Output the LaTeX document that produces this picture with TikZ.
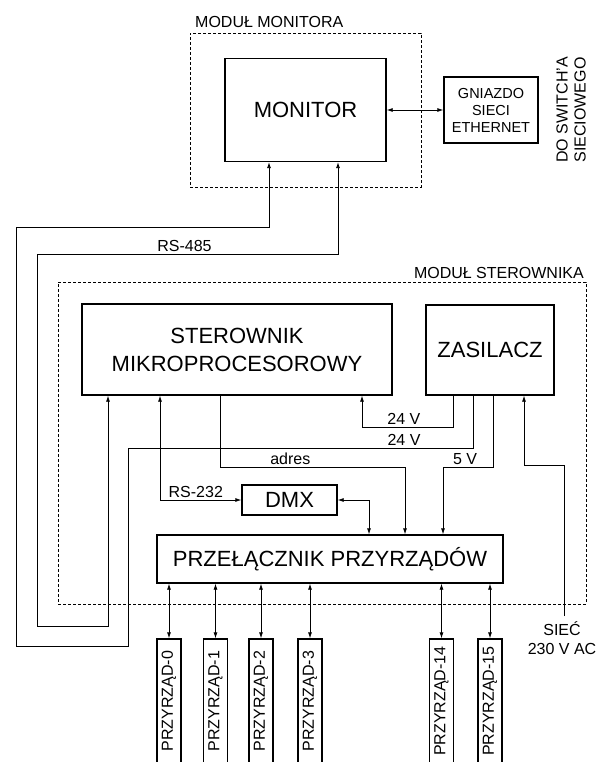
\documentclass[tikz,border=0pt]{standalone}
\usepackage{fontspec}
\setmainfont{Liberation Sans}
\usepackage{graphicx}
\usetikzlibrary{arrows.meta}

\begin{document}
\begin{tikzpicture}[x=1pt,y=-1pt,
  every node/.style={inner sep=0pt,font=\fontsize{16}{18}\selectfont},
  blok/.style={draw,line width=1.3pt,align=center,font=\fontsize{22}{28}\selectfont},
  modul/.style={draw,line width=0.6pt,dash pattern=on 3pt off 2pt},
  pil/.style={line width=0.8pt,-{Latex[length=6pt,width=4pt]}},
  dpil/.style={line width=0.8pt,{Latex[length=6pt,width=4pt]}-{Latex[length=6pt,width=4pt]}},
  lbl/.style={above=2pt}]
  \useasboundingbox (0,0) rectangle (604,762);

  % modul monitora
  \node[modul,minimum width=231pt,minimum height=154pt] (modmon) at (305.5,110) {};
  \node[anchor=base west] (lmodmon) at (195,28) {MODUŁ MONITORA};
  \node[blok,minimum width=161pt,minimum height=103pt] (monitor) at (305.5,110) {MONITOR};
  \node[draw,line width=1.3pt,align=center,font=\fontsize{14.5}{17}\selectfont,
        minimum width=94pt,minimum height=66pt] (gniazdo) at (491,110)
    {GNIAZDO\\SIECI\\ETHERNET};
  \node[rotate=90,align=center] (doswitch) at (571,110) {DO SWITCH'A\\SIECIOWEGO};
  \draw[dpil] (monitor.east) -- (gniazdo.west);

  % modul sterownika
  \node[modul,minimum width=528pt,minimum height=322pt] (modster) at (322,443) {};
  \node[anchor=base east] (lmodster) at (584,278) {MODUŁ STEROWNIKA};
  \node[blok,minimum width=310pt,minimum height=91pt] (sterownik) at (237,349.5)
    {STEROWNIK\\MIKROPROCESOROWY};
  \node[blok,minimum width=128pt,minimum height=90pt] (zasilacz) at (490,350) {ZASILACZ};
  \node[blok,minimum width=95pt,minimum height=30pt] (dmx) at (289.5,500) {DMX};
  \node[blok,minimum width=346pt,minimum height=48pt] (przel) at (330,559)
    {PRZEŁĄCZNIK PRZYRZĄDÓW};

  % RS-485
  \draw[dpil] ([xshift=-129pt]sterownik.south) -- (108,626) -- (37,626) -- (37,254)
    -- node[lbl,pos=.49] (lrs485) {RS-485} (338,254) -- ([xshift=32.5pt]monitor.south);
  % zasilanie monitora
  \draw[pil] ([xshift=-17pt]zasilacz.south) -- (473,448)
    -- node[lbl,pos=.2] (l24b) {24 V} (128,448) -- (128,646) -- (16,646) -- (16,227)
    -- (269,227) -- ([xshift=-36.5pt]monitor.south);
  % zasilanie sterownika
  \draw[pil] ([xshift=-37pt]zasilacz.south) -- (453,427)
    -- node[lbl,pos=.54] (l24a) {24 V} (362,427) -- ([xshift=125pt]sterownik.south);
  \draw[pil] ([xshift=-17pt]sterownik.south) -- (220,467)
    -- node[lbl,pos=.38] (ladres) {adres} (405,467) -- ([xshift=75pt]przel.north);
  \draw[pil] ([xshift=3pt]zasilacz.south) -- (493,467)
    -- node[lbl,pos=.56] (l5v) {5 V} (443,467) -- ([xshift=113pt]przel.north);
  \draw[dpil] ([xshift=-77pt]sterownik.south) -- (160,500)
    -- node[lbl,pos=.44] (lrs232) {RS-232} (dmx.west);
  \draw[dpil] (dmx.east) -- (369,500) -- ([xshift=39pt]przel.north);

  % siec
  \coordinate (siecwe) at (564,616);
  \node[anchor=north,align=center,font=\fontsize{16}{19.5}\selectfont] (siec) at (562,621)
    {SIEĆ\\230 V AC};
  \draw[pil] (siecwe) -- (564,465) -- (524,465) -- ([xshift=34pt]zasilacz.south);

  % przyrzady
  \foreach \nr/\px in {0/169,1/215.5,2/261,3/310,14/441.5,15/490}{
    \node[draw,line width=1.3pt,minimum width=24pt,minimum height=124pt] (p\nr) at (\px,701)
      {\rotatebox{90}{PRZYRZĄD-\nr}};
    \draw[dpil] (przel.south -| p\nr.north) -- (p\nr.north);
  }
\end{tikzpicture}
\end{document}
